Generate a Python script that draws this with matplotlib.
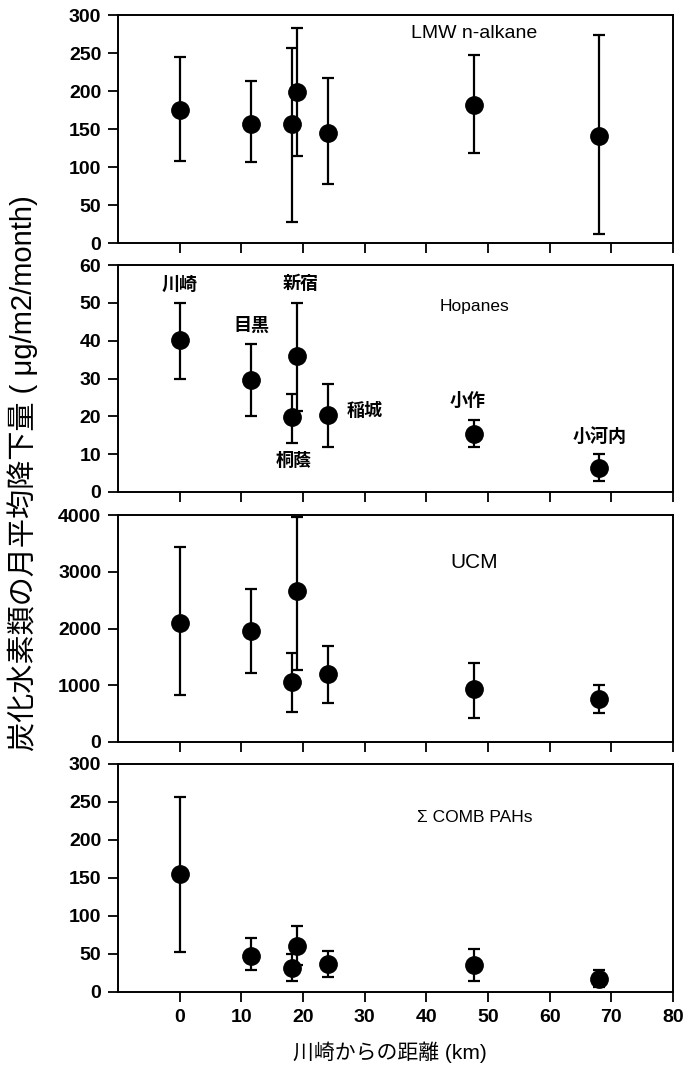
import numpy as np
import matplotlib
matplotlib.use('Agg')
import matplotlib.pyplot as plt

plt.rcParams['font.family'] = ['Liberation Sans', 'Noto Sans CJK JP', 'DejaVu Sans']

# distance from Kawasaki (km)
dist = [0, 11.6, 18.2, 19.0, 24.0, 47.8, 68.0]

# LMW n-alkane
lmw = [175, 157, 157, 199, 145, 182, 141]
lmw_lo = [108, 106, 27, 115, 77, 118, 12]
lmw_hi = [245, 213, 256, 283, 217, 247, 274]

# Hopanes
hop = [40.3, 29.7, 19.7, 36.0, 20.4, 15.3, 6.3]
hop_lo = [30, 20, 13, 21.5, 12, 12, 3]
hop_hi = [50, 39, 26, 50, 28.5, 19, 10]

# UCM
ucm = [2100, 1955, 1050, 2655, 1195, 930, 750]
ucm_lo = [820, 1220, 520, 1270, 690, 430, 510]
ucm_hi = [3430, 2700, 1570, 3960, 1700, 1400, 1010]

# sum COMB PAHs
pah = [155, 48, 32, 61, 37, 35, 17]
pah_lo = [52, 29, 15, 36, 20, 14, 6]
pah_hi = [257, 71, 50, 87, 54, 57, 29]

site_names = ['川崎', '目黒', '桐蔭', '新宿', '稲城', '小作', '小河内']
site_x = [0, 11.6, 18.5, 19.7, 30, 46.7, 68.1]
site_y = [54.7, 43.7, 8.1, 55, 21.3, 23.9, 14.4]

panels = [
    (lmw, lmw_lo, lmw_hi, 300, 50, 'LMW n-alkane', 275, 14),
    (hop, hop_lo, hop_hi, 60, 10, 'Hopanes', 49, 12.5),
    (ucm, ucm_lo, ucm_hi, 4000, 1000, 'UCM', 3165, 15),
    (pah, pah_lo, pah_hi, 300, 50, 'Σ COMB PAHs', 229, 12.5),
]

W, H = 692, 1069
fig = plt.figure(figsize=(W / 100, H / 100), dpi=100)

# pixel rows of each panel (top, bottom)
rows = [(15, 243), (265, 492), (515, 742), (764, 992)]
left, right = 118, 673

axes = []
for i, (vals, lo, hi, ymax, ystep, title, ty, tsize) in enumerate(panels):
    top, bot = rows[i]
    ax = fig.add_axes([left / W, 1 - bot / H, (right - left) / W, (bot - top) / H])
    vals = np.array(vals)
    err = [vals - np.array(lo), np.array(hi) - vals]
    ax.errorbar(dist, vals, yerr=err, fmt='o', color='black', ms=12.5,
                elinewidth=1.6, capsize=4, capthick=1.6)
    ax.set_xlim(-10, 80)
    ax.set_ylim(0, ymax)
    ax.set_xticks(np.arange(0, 81, 10))
    ax.set_yticks(np.arange(0, ymax + 1, ystep))
    ax.tick_params(direction='out', length=7, width=1.3, labelsize=14, pad=5)
    for lab in ax.get_yticklabels() + ax.get_xticklabels():
        lab.set_fontweight('bold')
    if i < 3:
        ax.tick_params(axis='x', labelbottom=False)
    for s in ax.spines.values():
        s.set_linewidth(1.4)
    ax.text(47.8, ty, title, ha='center', va='center', fontsize=tsize)
    axes.append(ax)

for name, x, y in zip(site_names, site_x, site_y):
    axes[1].text(x, y, name, ha='center', va='center', fontsize=13,
                 fontweight='bold')

axes[3].set_xticklabels([str(v) for v in range(0, 81, 10)])
fig.text(0.564, 0.016, '川崎からの距離 (km)', ha='center', va='center',
         fontsize=15)
fig.text(0.033, 0.5575, '炭化水素類の月平均降下量 ( μg/m2/month)', rotation=90,
         ha='center', va='center', fontsize=21)

fig.savefig('out.png', dpi=100)
